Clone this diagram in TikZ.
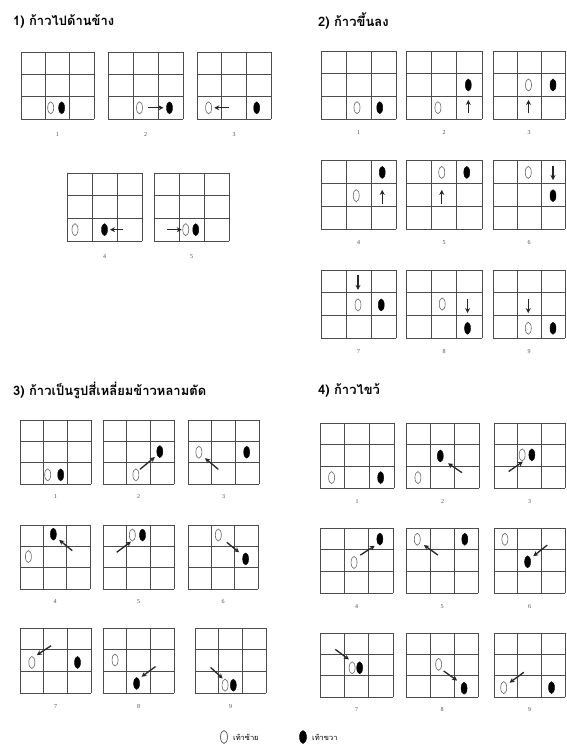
\documentclass[tikz,border=0pt]{standalone}
\usepackage{fontspec}
\setmainfont{Liberation Serif}
\newfontfamily\thaifont[Script=Thai]{Loma}
\usetikzlibrary{arrows.meta,shapes.geometric}
\tikzset{
  gl/.style={line width=0.8pt, draw=black!70},
  leftfoot/.style={draw=black!60, line width=0.6pt, ellipse, minimum width=6pt, minimum height=12pt, inner sep=0pt},
  rightfoot/.style={fill=black, draw=black, ellipse, minimum width=6pt, minimum height=12pt, inner sep=0pt},
  steparrow/.style={line width=1.3pt, draw=black!85, -{Stealth[length=5pt,width=5pt]}},
  numlab/.style={font=\fontsize{6}{7}\selectfont, text=black!70, inner sep=0pt},
  header/.style={font=\thaifont\bfseries\fontsize{13}{15}\selectfont, anchor=west, inner sep=0pt},
  legtext/.style={font=\thaifont\fontsize{7.5}{9}\selectfont, anchor=west, inner sep=0pt}
}
\newcommand\stepL[3]{\node[leftfoot] (#1) at (#2,#3) {};}
\newcommand\stepR[3]{\node[rightfoot] (#1) at (#2,#3) {};}
\newcommand\stepA[5]{\coordinate (#1s) at (#2,#3); \coordinate (#1e) at (#4,#5); \draw[steparrow] (#1s) -- (#1e);}
% #1 id, #2 x0, #3 y0, #4 x1, #5 y1, #6 label, #7 label offset, #8 content
\newcommand\fgrid[8]{%
  \pgfmathsetmacro\gcw{(#4-#2)/3}\pgfmathsetmacro\gch{(#5-#3)/3}%
  \begin{scope}[shift={(#2,#3)}, x=\gcw pt, y=-\gch pt]
    \foreach \i in {0,1,2,3}{\draw[gl] (\i,0) -- (\i,3); \draw[gl] (0,\i) -- (3,\i);}
    \node[numlab, yshift=-#7pt] (#1n) at (1.5,3) {#6};
    #8
  \end{scope}}
\begin{document}
\begin{tikzpicture}[x=1pt, y=-1pt]
\useasboundingbox[fill=white] (0,0) rectangle (566,756);
% headers
\node[header] (h1) at (13,21) {1) ก้าวไปด้านข้าง};
\node[header] (h2) at (318,21) {2) ก้าวขึ้นลง};
\node[header] (h3) at (13,390) {3) ก้าวเป็นรูปสี่เหลี่ยมข้าวหลามตัด};
\node[header] (h4) at (318,390) {4) ก้าวไขว้};
% section 1
\fgrid{a1}{21}{52}{94}{119}{1}{16}{\stepL{a1l}{1.22}{2.5}\stepR{a1r}{1.67}{2.5}}
\fgrid{a2}{108}{52}{183}{119}{2}{16}{\stepL{a2l}{1.26}{2.5}\stepA{a2a}{1.6}{2.5}{2.22}{2.5}\stepR{a2r}{2.46}{2.5}}
\fgrid{a3}{197}{52}{271}{119}{3}{16}{\stepL{a3l}{0.47}{2.5}\stepA{a3a}{1.31}{2.5}{0.7}{2.5}\stepR{a3r}{2.42}{2.5}}
\fgrid{a4}{67}{173}{142}{241}{4}{16}{\stepL{a4l}{0.32}{2.5}\stepR{a4r}{1.5}{2.5}\stepA{a4a}{2.25}{2.5}{1.72}{2.5}}
\fgrid{a5}{154}{173}{229}{241}{5}{16}{\stepA{a5a}{0.51}{2.5}{1.11}{2.5}\stepL{a5l}{1.27}{2.5}\stepR{a5r}{1.67}{2.5}}
% section 2
\fgrid{b1}{321}{51}{396}{119}{1}{14}{\stepL{b1l}{1.44}{2.5}\stepR{b1r}{2.35}{2.5}}
\fgrid{b2}{406}{51}{482}{119}{2}{14}{\stepL{b2l}{1.26}{2.5}\stepR{b2r}{2.46}{1.5}\stepA{b2a}{2.46}{2.72}{2.46}{2.16}}
\fgrid{b3}{493}{51}{565}{119}{3}{14}{\stepL{b3l}{1.48}{1.5}\stepR{b3r}{2.5}{1.5}\stepA{b3a}{1.48}{2.72}{1.48}{2.16}}
\fgrid{b4}{321}{160}{396}{229}{4}{14}{\stepR{b4r}{2.45}{0.54}\stepL{b4l}{1.41}{1.55}\stepA{b4a}{2.45}{1.9}{2.45}{1.3}}
\fgrid{b5}{406}{160}{482}{229}{5}{14}{\stepL{b5l}{1.41}{0.54}\stepR{b5r}{2.4}{0.54}\stepA{b5a}{1.41}{1.9}{1.41}{1.3}}
\fgrid{b6}{493}{160}{565}{229}{6}{14}{\stepL{b6l}{1.47}{0.54}\stepA{b6a}{2.5}{0.26}{2.5}{0.87}\stepR{b6r}{2.5}{1.55}}
\fgrid{b7}{321}{270}{396}{338}{7}{14}{\stepA{b7a}{1.48}{0.2}{1.48}{0.88}\stepL{b7l}{1.48}{1.54}\stepR{b7r}{2.41}{1.54}}
\fgrid{b8}{406}{270}{482}{338}{8}{14}{\stepL{b8l}{1.43}{1.5}\stepA{b8a}{2.43}{1.28}{2.43}{1.9}\stepR{b8r}{2.43}{2.57}}
\fgrid{b9}{493}{270}{565}{338}{9}{14}{\stepA{b9a}{1.47}{1.28}{1.47}{1.9}\stepL{b9l}{1.47}{2.57}\stepR{b9r}{2.5}{2.57}}
% section 3
\fgrid{c1}{20}{420}{91}{484}{1}{13}{\stepL{c1l}{1.17}{2.57}\stepR{c1r}{1.72}{2.57}}
\fgrid{c2}{103}{420}{174}{484}{2}{13}{\stepL{c2l}{1.39}{2.57}\stepA{c2a}{1.56}{2.31}{2.19}{1.74}\stepR{c2r}{2.4}{1.48}}
\fgrid{c3}{188}{420}{259}{484}{3}{13}{\stepL{c3l}{0.46}{1.51}\stepA{c3a}{1.28}{2.31}{0.72}{1.79}\stepR{c3r}{2.48}{1.51}}
\fgrid{c4}{20}{525}{90}{589}{4}{13}{\stepR{c4r}{1.43}{0.43}\stepA{c4a}{2.24}{1.2}{1.68}{0.7}\stepL{c4l}{0.36}{1.48}}
\fgrid{c5}{103}{525}{174}{589}{5}{13}{\stepA{c5a}{0.58}{1.28}{1.18}{0.78}\stepL{c5l}{1.24}{0.47}\stepR{c5r}{1.67}{0.47}}
\fgrid{c6}{188}{525}{258}{589}{6}{13}{\stepL{c6l}{1.3}{0.47}\stepA{c6a}{1.66}{0.81}{2.19}{1.28}\stepR{c6r}{2.47}{1.59}}
\fgrid{c7}{20}{628}{91}{693}{7}{14}{\stepL{c7l}{0.5}{1.59}\stepA{c7a}{1.31}{0.82}{0.71}{1.25}\stepR{c7r}{2.43}{1.59}}
\fgrid{c8}{103}{628}{174}{693}{8}{14}{\stepL{c8l}{0.51}{1.48}\stepA{c8a}{2.22}{1.78}{1.63}{2.25}\stepR{c8r}{1.42}{2.56}}
\fgrid{c9}{195}{628}{266}{693}{9}{14}{\stepA{c9a}{0.66}{1.82}{1.17}{2.33}\stepL{c9l}{1.27}{2.64}\stepR{c9r}{1.62}{2.64}}
% section 4
\fgrid{d1}{320}{423}{394}{488}{1}{14}{\stepL{d1l}{0.47}{2.52}\stepR{d1r}{2.46}{2.52}}
\fgrid{d2}{406}{423}{479}{488}{2}{14}{\stepR{d2r}{1.41}{1.52}\stepA{d2a}{2.3}{2.29}{1.73}{1.86}\stepL{d2l}{0.49}{2.52}}
\fgrid{d3}{494}{423}{565}{488}{3}{14}{\stepA{d3a}{0.62}{2.24}{1.22}{1.78}\stepL{d3l}{1.19}{1.47}\stepR{d3r}{1.6}{1.47}}
\fgrid{d4}{320}{528}{393}{593}{4}{14}{\stepR{d4r}{2.46}{0.51}\stepA{d4a}{1.66}{1.25}{2.25}{0.82}\stepL{d4l}{1.4}{1.59}}
\fgrid{d5}{406}{528}{478}{593}{5}{14}{\stepL{d5l}{0.47}{0.52}\stepA{d5a}{1.33}{1.25}{0.75}{0.79}\stepR{d5r}{2.45}{0.52}}
\fgrid{d6}{494}{528}{565}{593}{6}{14}{\stepL{d6l}{0.46}{0.52}\stepA{d6a}{2.25}{0.79}{1.66}{1.3}\stepR{d6r}{1.42}{1.56}}
\fgrid{d7}{320}{633}{393}{697}{7}{13}{\stepA{d7a}{0.63}{0.77}{1.19}{1.24}\stepL{d7l}{1.32}{1.63}\stepR{d7r}{1.63}{1.63}}
\fgrid{d8}{406}{633}{478}{697}{8}{13}{\stepL{d8l}{1.36}{1.47}\stepA{d8a}{1.57}{1.78}{2.13}{2.23}\stepR{d8r}{2.42}{2.59}}
\fgrid{d9}{494}{633}{565}{697}{9}{13}{\stepA{d9a}{1.26}{1.84}{0.66}{2.33}\stepL{d9l}{0.41}{2.56}\stepR{d9r}{2.43}{2.56}}
% legend
\node[leftfoot, minimum width=7pt, minimum height=13pt, line width=0.8pt] (legL) at (224,737) {};
\node[legtext] (legLt) at (233,737) {เท้าซ้าย};
\node[rightfoot, minimum width=7pt, minimum height=13pt] (legR) at (303,737) {};
\node[legtext] (legRt) at (312,737) {เท้าขวา};
\end{tikzpicture}
\end{document}
